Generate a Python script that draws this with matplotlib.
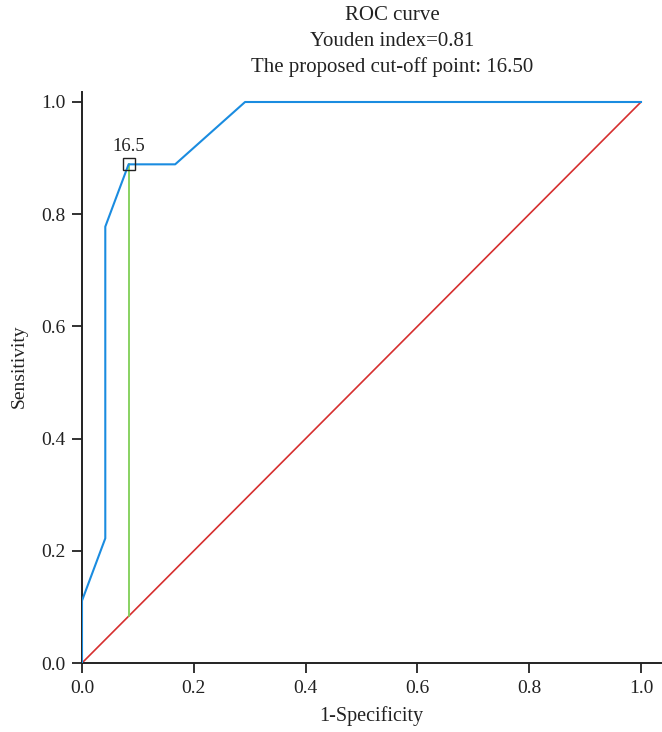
import matplotlib
matplotlib.use("Agg")
import matplotlib.pyplot as plt

plt.rcParams['font.family'] = ['Liberation Serif', 'DejaVu Serif']

fpr = [0.0, 0.0, 0.0, 1/24, 1/24, 2/24, 4/24, 7/24, 1.0]
tpr = [0.0, 0.0, 1/9, 2/9, 7/9, 8/9, 8/9, 1.0, 1.0]
cut_fpr = 2/24
cut_tpr = 8/9
cut_label = "16.5"
title_lines = ["ROC curve", "Youden index=0.81", "The proposed cut-off point: 16.50"]
xticks = [0.0, 0.2, 0.4, 0.6, 0.8, 1.0]
yticks = [0.0, 0.2, 0.4, 0.6, 0.8, 1.0]

fig = plt.figure(figsize=(6.62, 7.32), dpi=100)
W, H = 662, 732
x0, x1 = 82, 641
y0, y1 = 663, 102
xmax = 1 + (661 - x1) / (x1 - x0)
ymax = 1 + (y1 - 92) / (y0 - y1)
ax = fig.add_axes([x0 / W, 1 - y0 / H, (661 - x0) / W, (y0 - 92) / H])
ax.set_xlim(0, xmax)
ax.set_ylim(0, ymax)

ax.plot([0, 1], [0, 1], color='#d62f2f', lw=1.2, zorder=2)
ax.plot([cut_fpr, cut_fpr], [cut_fpr, cut_tpr], color='#7fcf55', lw=1.3, zorder=2)
ax.plot(fpr, tpr, color='#1a8ce0', lw=1.5, zorder=3)
ax.plot([cut_fpr], [cut_tpr], marker='s', ms=8, mfc='none', mec='#222222', mew=1.0, zorder=4)
ax.text(cut_fpr, cut_tpr + 0.017, cut_label, ha='center', va='bottom', fontsize=13.5, color='#222222')

for s in ['top', 'right']:
    ax.spines[s].set_visible(False)
for s in ['left', 'bottom']:
    ax.spines[s].set_color('#222222')
    ax.spines[s].set_linewidth(1.4)
ax.set_xticks(xticks)
ax.set_yticks(yticks)
ax.set_xticklabels([f"{v:.1f}" for v in xticks])
ax.set_yticklabels([f"{v:.1f}" for v in yticks])
ax.tick_params(direction='out', length=7, width=1.3, color='#222222', labelsize=14, labelcolor='#222222', pad=5)
ax.set_xlabel("1-Specificity", fontsize=14.5, color='#222222', labelpad=7)
ax.set_ylabel("Sensitivity", fontsize=14, color='#222222', labelpad=10)
ax.yaxis.set_label_coords(-0.094, (y0 - 366) / (y0 - 92))

for i, t in enumerate(title_lines):
    fig.text(392 / W, 1 - (16 + 25.5 * i) / H, t, ha='center', va='center', fontsize=15, color='#222222')

fig.savefig("out.png", dpi=100)
